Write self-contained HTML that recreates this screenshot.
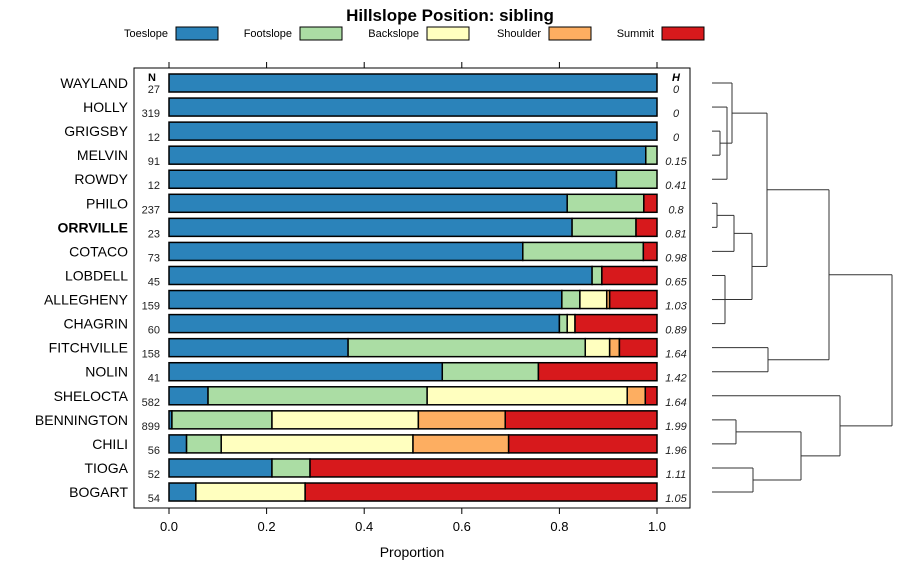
<!DOCTYPE html>
<html><head><meta charset="utf-8"><style>
body{margin:0;background:#fff}
svg{display:block;font-family:"Liberation Sans",sans-serif}
</style></head><body>
<svg id="c" width="900" height="580"></svg>
<script>
const categories=["WAYLAND","HOLLY","GRIGSBY","MELVIN","ROWDY","PHILO","ORRVILLE","COTACO","LOBDELL","ALLEGHENY","CHAGRIN","FITCHVILLE","NOLIN","SHELOCTA","BENNINGTON","CHILI","TIOGA","BOGART"];
const seriesNames=["Toeslope","Footslope","Backslope","Shoulder","Summit"];
const toeslope=[1,1,1,0.977,0.917,0.816,0.826,0.725,0.867,0.805,0.8,0.367,0.56,0.08,0.006,0.036,0.211,0.055];
const footslope=[0,0,0,0.023,0.083,0.157,0.131,0.247,0.02,0.037,0.016,0.486,0.197,0.449,0.205,0.071,0.078,0];
const backslope=[0,0,0,0,0,0,0,0,0,0.055,0.016,0.05,0,0.41,0.3,0.393,0,0.224];
const shoulder=[0,0,0,0,0,0,0,0,0,0.006,0,0.02,0,0.037,0.178,0.196,0,0];
const summit=[0,0,0,0,0,0.027,0.043,0.028,0.113,0.097,0.168,0.077,0.243,0.024,0.311,0.304,0.711,0.721];
const nValues=["27","319","12","91","12","237","23","73","45","159","60","158","41","582","899","56","52","54"];
const hValues=["0","0","0","0.15","0.41","0.8","0.81","0.98","0.65","1.03","0.89","1.64","1.42","1.64","1.99","1.96","1.11","1.05"];
const xTicks=[0,0.2,0.4,0.6,0.8,1.0];
const colors=["#2B83BA","#ABDDA4","#FFFFBF","#FDAE61","#D7191C"];
const svg=document.getElementById('c');
const NS="http://www.w3.org/2000/svg";
function mk(t,a,p){const e=document.createElementNS(NS,t);for(const k in a)e.setAttribute(k,a[k]);(p||svg).appendChild(e);return e;}
const x=v=>169+v*488;
const y=i=>83+i*24.06;
// title
let t=mk('text',{x:450,y:21,'text-anchor':'middle','font-size':17,'font-weight':'bold'});t.textContent="Hillslope Position: sibling";


// legend
const legX=[176,300,427,549,662];
seriesNames.forEach((s,i)=>{
 const g=mk('g',{});
 
 
 const tx=mk('text',{x:legX[i]-8,y:37,'text-anchor':'end','font-size':11},g);tx.textContent=s;
 mk('rect',{x:legX[i],y:27,width:42,height:13,fill:colors[i],stroke:'#000','stroke-width':1},g);
});
// panel
const panel=mk('rect',{x:134,y:68,width:556,height:440,fill:'none',stroke:'#000','stroke-width':1});


// ticks
xTicks.forEach(v=>{
 mk('line',{x1:x(v),x2:x(v),y1:508,y2:514,stroke:'#000'});
 mk('line',{x1:x(v),x2:x(v),y1:62,y2:68,stroke:'#000'});
 const l=mk('text',{x:x(v),y:531,'text-anchor':'middle','font-size':13});l.textContent=v.toFixed(1);
 
 
});
let xl=mk('text',{x:412,y:557,'text-anchor':'middle','font-size':14});xl.textContent="Proportion";


let nh=mk('text',{x:152,y:81,'text-anchor':'middle','font-size':11,'font-weight':'bold'});nh.textContent="N";


let hh=mk('text',{x:676,y:81,'text-anchor':'middle','font-size':11,'font-weight':'bold','font-style':'italic'});hh.textContent="H";


const series=[toeslope,footslope,backslope,shoulder,summit];
categories.forEach((c,i)=>{
 const cy=y(i);
 const lab=mk('text',{x:128,y:cy+5,'text-anchor':'end','font-size':14,'font-weight':c==="ORRVILLE"?'bold':'normal'});lab.textContent=c;
 
 
 const n=mk('text',{x:160,y:cy+10,'text-anchor':'end','font-size':11,fill:'#222'});n.textContent=nValues[i];
 
 
 const h=mk('text',{x:676,y:cy+10,'text-anchor':'middle','font-size':11,'font-style':'italic',fill:'#222'});h.textContent=hValues[i];
 
 
 let acc=0;
 series.forEach((s,k)=>{
  const v=s[i]; if(v<=0)return;
  const r=mk('rect',{x:x(acc),y:cy-9,width:v*488,height:18,fill:colors[k],stroke:'#000','stroke-width':1.5});
  
  
  acc+=v;
 });
});
// dendrogram
const L=712;
const dg=mk('g',{stroke:'#333','stroke-width':1,fill:'none'});


function join(hx,children){ // children: [ [x,y], ...]
 const ys=children.map(c=>c[1]);
 mk('line',{x1:hx,x2:hx,y1:Math.min(...ys),y2:Math.max(...ys)},dg);
 children.forEach(c=>mk('line',{x1:c[0],x2:hx,y1:c[1],y2:c[1]},dg));
 return [hx,(Math.min(...ys)+Math.max(...ys))/2];
}
const lf=i=>[L,y(i)];
const A=join(720,[lf(2),lf(3)]);
const B=join(727,[lf(1),A,lf(4)]);
const C=join(732,[lf(0),B]);
const P=join(717,[lf(5),lf(6)]);
const Q=join(734,[P,lf(7)]);
const R=join(725,[lf(8),lf(9),lf(10)]);
const D=join(752,[Q,R]);
const E=join(767,[C,D]);
const Fn=join(768,[lf(11),lf(12)]);
const F=join(829,[E,Fn]);
const G1=join(736,[lf(14),lf(15)]);
const G2=join(753,[lf(16),lf(17)]);
const G=join(801,[G1,G2]);
const H=join(840,[lf(13),G]);
join(892,[F,H]);
</script>
</body></html>
